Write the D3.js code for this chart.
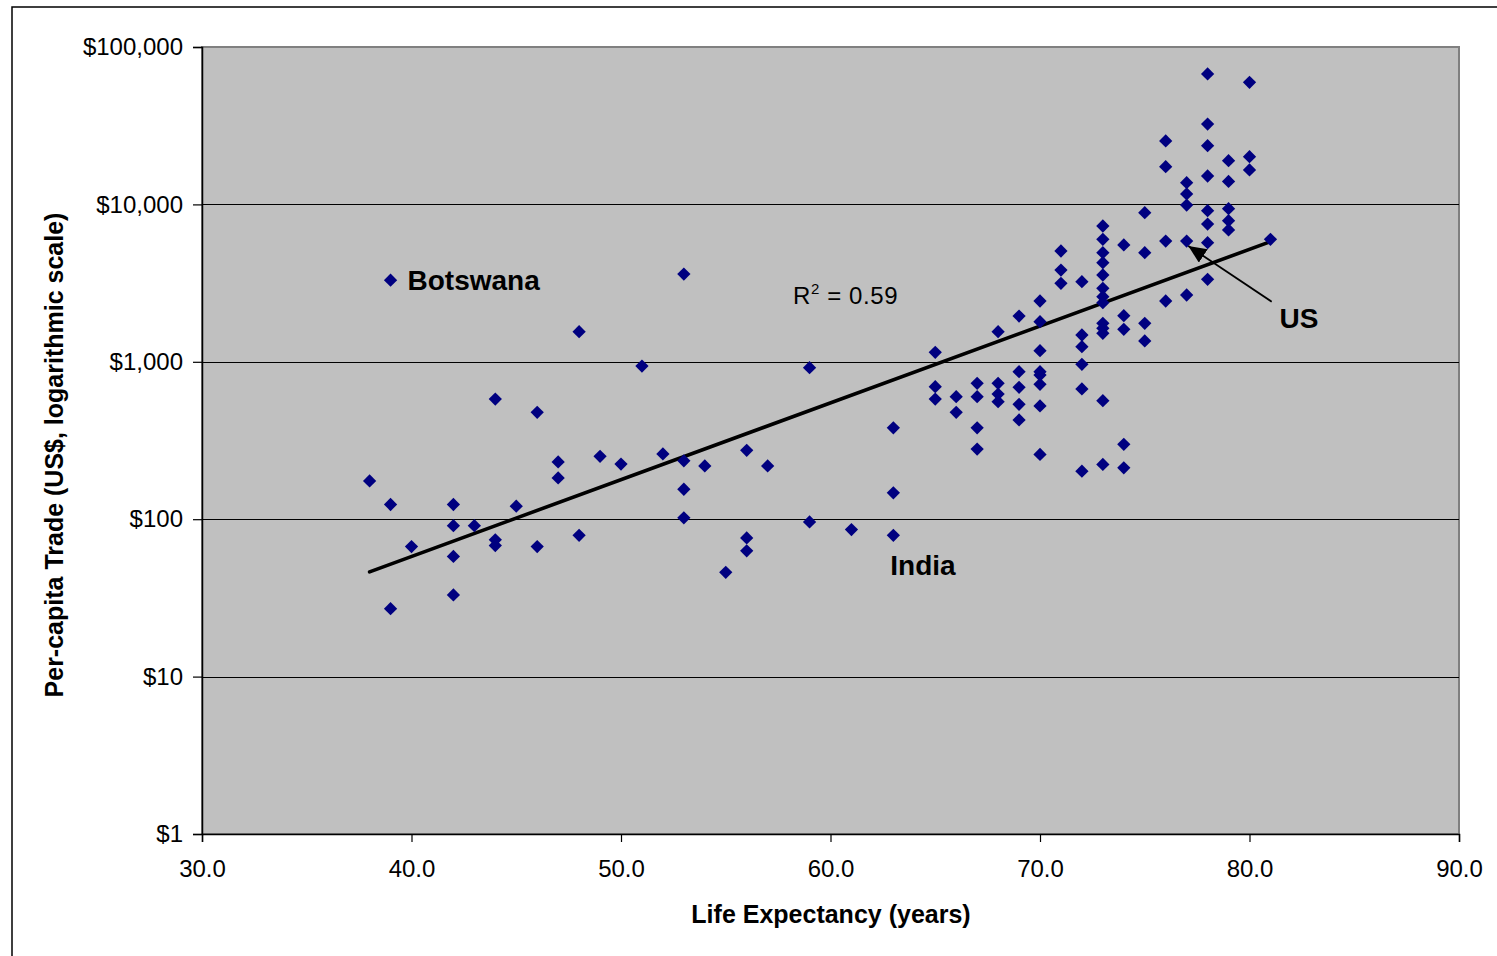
<!DOCTYPE html>
<html>
<head>
<meta charset="utf-8">
<script src="https://cdn.jsdelivr.net/npm/d3@7"></script>
<style>
  html, body { margin: 0; padding: 0; background: #ffffff; }
  svg { display: block; font-family: "Liberation Sans", Arial, sans-serif; }
</style>
</head>
<body>
<svg id="chart" width="1497" height="956"></svg>
<script>
// ---- Data ----
const lifeExpectancy = [
  38,
  39, 39, 39,
  40,
  42, 42, 42, 42,
  43,
  44, 44, 44,
  45,
  46, 46,
  47, 47,
  48, 48,
  49, 50, 51, 52,
  53, 53, 53, 53,
  54, 55,
  56, 56, 56,
  57,
  59, 59,
  61,
  63, 63, 63,
  65, 65, 65,
  66, 66,
  67, 67, 67, 67,
  68, 68, 68, 68,
  69, 69, 69, 69, 69,
  70, 70, 70, 70, 70, 70, 70, 70,
  71, 71, 71,
  72, 72, 72, 72, 72, 72,
  73, 73, 73, 73, 73, 73, 73, 73, 73, 73, 73, 73, 73,
  74, 74, 74, 74, 74,
  75, 75, 75, 75,
  76, 76, 76, 76,
  77, 77, 77, 77, 77,
  78, 78, 78, 78, 78, 78, 78, 78,
  79, 79, 79, 79, 79,
  80, 80, 80,
  81
];
const perCapitaTrade = [
  175,
  3300, 124, 27,
  67,
  124, 91, 58, 33,
  91,
  580, 74, 68,
  121,
  478, 67,
  231, 183,
  1553, 79,
  251, 224, 940, 260,
  3610, 235, 155, 102,
  218, 46,
  274, 76, 63,
  218,
  918, 96,
  86,
  381, 147, 79,
  1149, 695, 580,
  600, 478,
  730, 600, 381, 279,
  1553, 730, 624, 558,
  1954, 866, 689, 537, 427,
  2434, 1799, 1177, 866, 824, 719, 524, 258,
  5058, 3828, 3152,
  3227, 1480, 1247, 964, 672, 202,
  7291, 6005, 4936, 4263, 3560, 2930, 2593, 2374, 1757, 1633, 1518, 566, 223,
  5525, 1963, 1608, 299, 212,
  8860, 4936, 1757, 1357,
  25300, 17370, 5853, 2434,
  13750, 11650, 9910, 5853, 2657,
  67400, 32400, 23600, 15150, 9120, 7500, 5710, 3343,
  18950, 13990, 9390, 7880, 6880,
  59660, 20100, 16550,
  6005
];
// Exponential trend line end points (as drawn)
const trendX = [38, 81];
const trendY = [46.3, 5800];
const rSquaredText = "0.59";

const xTicks = [30, 40, 50, 60, 70, 80, 90];
const xTickLabels = ["30.0", "40.0", "50.0", "60.0", "70.0", "80.0", "90.0"];
const yTicks = [1, 10, 100, 1000, 10000, 100000];
const yTickLabels = ["$1", "$10", "$100", "$1,000", "$10,000", "$100,000"];

// Annotations (data coordinates of labelled countries)
const labelNames = ["Botswana", "India", "US"];
const labelX = [39, 63, 81];
const labelY = [3300, 79, 6005];

// ---- Layout ----
const svg = d3.select("#chart");
const plot = { left: 202, top: 47, right: 1459, bottom: 834 };

const x = d3.scaleLinear().domain([30, 90]).range([plot.left, plot.right]);
const y = d3.scaleLog().domain([1, 100000]).range([plot.bottom, plot.top]);

// outer chart border
svg.append("rect")
  .attr("x", 12).attr("y", 7)
  .attr("width", 1600).attr("height", 1000)
  .attr("fill", "#ffffff").attr("stroke", "#000").attr("stroke-width", 1.5);

// plot area
svg.append("rect")
  .attr("x", plot.left).attr("y", plot.top)
  .attr("width", plot.right - plot.left).attr("height", plot.bottom - plot.top)
  .attr("fill", "#c0c0c0").attr("stroke", "#808080").attr("stroke-width", 2);

// gridlines
svg.append("g").selectAll("line")
  .data(yTicks.filter(d => d > 1 && d < 100000))
  .join("line")
  .attr("x1", plot.left).attr("x2", plot.right)
  .attr("y1", d => Math.round(y(d)) + 0.5).attr("y2", d => Math.round(y(d)) + 0.5)
  .attr("stroke", "#000").attr("stroke-width", 1);

// axes
const yAxis = d3.axisLeft(y).tickValues(yTicks)
  .tickFormat((d, i) => yTickLabels[i]).tickSize(9).tickPadding(10);
const gy = svg.append("g").attr("transform", `translate(${plot.left},0)`).call(yAxis);
gy.select(".domain").attr("stroke", "#000").attr("stroke-width", 1.5);
gy.selectAll(".tick line").attr("stroke", "#000").attr("stroke-width", 1.2);
gy.selectAll(".tick text").attr("font-size", 24).attr("fill", "#000")
  .attr("font-family", "'Liberation Sans', Arial, sans-serif");

const xAxis = d3.axisBottom(x).tickValues(xTicks)
  .tickFormat((d, i) => xTickLabels[i]).tickSize(8).tickPadding(18);
const gx = svg.append("g").attr("transform", `translate(0,${plot.bottom})`).call(xAxis);
gx.select(".domain").attr("stroke", "#000").attr("stroke-width", 1.5);
gx.selectAll(".tick line").attr("stroke", "#000").attr("stroke-width", 1.2);
gx.selectAll(".tick text").attr("font-size", 24).attr("fill", "#000")
  .attr("font-family", "'Liberation Sans', Arial, sans-serif");

// axis titles
svg.append("text")
  .attr("x", 831).attr("y", 923)
  .attr("text-anchor", "middle")
  .attr("font-size", 25).attr("font-weight", "bold")
  .text("Life Expectancy (years)");

svg.append("text")
  .attr("transform", "translate(63,455) rotate(-90)")
  .attr("text-anchor", "middle")
  .attr("font-size", 25).attr("font-weight", "bold")
  .text("Per-capita Trade (US$, logarithmic scale)");

// trend line
const trendData = trendX.map((v, i) => [v, trendY[i]]);
svg.append("path")
  .datum(trendData)
  .attr("d", d3.line().x(d => x(d[0])).y(d => y(d[1])))
  .attr("fill", "none").attr("stroke", "#000").attr("stroke-width", 3.6)
  .attr("stroke-linecap", "round");

// points
const points = lifeExpectancy.map((v, i) => [v, perCapitaTrade[i]]);
const diamond = d3.symbol().type(d3.symbolSquare).size(88);
svg.append("g").selectAll("path")
  .data(points)
  .join("path")
  .attr("d", diamond)
  .attr("transform", d => `translate(${x(d[0])},${y(d[1])}) rotate(45)`)
  .attr("fill", "#000080");

// R^2 label
const r2 = svg.append("text")
  .attr("x", 793).attr("y", 304)
  .attr("font-size", 24).attr("letter-spacing", 0.6).attr("fill", "#000");
r2.append("tspan").text("R");
r2.append("tspan").attr("font-size", 15).attr("dy", -10).text("2");
r2.append("tspan").attr("dy", 10).text(" = " + rSquaredText);

// country labels
const labelOffsets = [[17, 10], [-3, 40], [9, 89]];
svg.append("g").selectAll("text")
  .data(labelNames)
  .join("text")
  .attr("x", (d, i) => x(labelX[i]) + labelOffsets[i][0])
  .attr("y", (d, i) => y(labelY[i]) + labelOffsets[i][1])
  .attr("font-size", 28).attr("font-weight", "bold").attr("fill", "#000")
  .text(d => d);

// US arrow
svg.append("defs").append("marker")
  .attr("id", "arrowhead")
  .attr("markerUnits", "userSpaceOnUse")
  .attr("viewBox", "0 0 18 16")
  .attr("markerWidth", 18).attr("markerHeight", 16)
  .attr("refX", 18).attr("refY", 8)
  .attr("orient", "auto")
  .append("path").attr("d", "M0,0 L18,8 L0,16 Z").attr("fill", "#000");

svg.append("line")
  .attr("x1", x(81.06)).attr("y1", y(2410))
  .attr("x2", x(77.08)).attr("y2", y(5445))
  .attr("stroke", "#000").attr("stroke-width", 1.8)
  .attr("marker-end", "url(#arrowhead)");
</script>
</body>
</html>
